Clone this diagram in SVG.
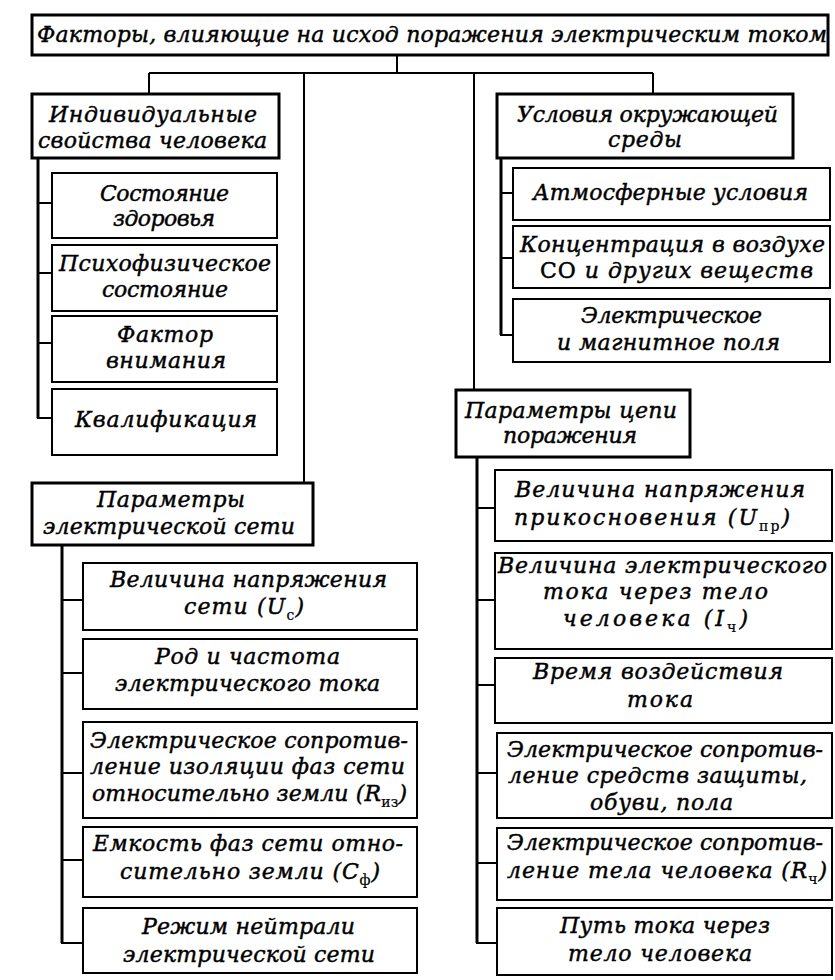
<svg xmlns="http://www.w3.org/2000/svg" width="835" height="980" viewBox="0 0 835 980">
<style>
.bg{fill:#fff}
.main{fill:#fff;stroke:#000;stroke-width:3}
.sub{fill:#fff;stroke:#000;stroke-width:2}
.ln{stroke:#000;stroke-width:2;fill:none}
.tr{stroke:#000;stroke-width:3;fill:none}
text{font-family:"DejaVu Serif","Liberation Serif",serif;font-style:italic;font-size:22px;fill:#000;stroke:#000;stroke-width:0.45}
.s{font-style:normal;font-size:14px;stroke-width:0.2}
</style>
<rect class="bg" x="0" y="0" width="835" height="980"/>
<g id="connectors">
<path class="ln" d="M397 55V73M149 73H653M149 73V94M304 73V483M474 73V390M653 73V94"/>
<path class="tr" d="M38 158V418M501 158V335M62 545V943M477 458V943"/>
<path class="ln" d="M38 203H52M38 273H52M38 343H52M37 418H52"/>
<path class="ln" d="M501 193H513M501 258H513M500 335H513"/>
<path class="ln" d="M62 600H83M62 673H83M62 773H83M62 860H83M61 943H83"/>
<path class="ln" d="M477 508H495M477 600H495M477 685H495M477 773H497M477 863H497M476 943H497"/>
</g>
<g id="n-title"><rect class="main" x="32" y="15" width="796" height="40"/><text x="37" y="42" textLength="790">Факторы, влияющие на исход поражения электрическим током</text></g>
<g id="n-ind"><rect class="main" x="32" y="94" width="247" height="64"/><text x="49" y="122" textLength="208">Индивидуальные</text><text x="38" y="148" textLength="229">свойства человека</text></g>
<g id="n-usl"><rect class="main" x="497" y="94" width="296" height="64"/><text x="517" y="122" textLength="261">Условия окружающей</text><text x="608" y="147" textLength="74">среды</text></g>
<g id="n-ls1"><rect class="sub" x="52" y="173" width="225" height="65"/><text x="100" y="201" textLength="129">Состояние</text><text x="113" y="226" textLength="102">здоровья</text></g>
<g id="n-ls2"><rect class="sub" x="52" y="245" width="225" height="66"/><text x="59" y="271" textLength="212">Психофизическое</text><text x="102" y="297" textLength="126">состояние</text></g>
<g id="n-ls3"><rect class="sub" x="52" y="316" width="225" height="66"/><text x="117" y="342" textLength="96">Фактор</text><text x="106" y="368" textLength="120">внимания</text></g>
<g id="n-ls4"><rect class="sub" x="52" y="389" width="225" height="66"/><text x="75" y="427" textLength="182">Квалификация</text></g>
<g id="n-rs1"><rect class="sub" x="513" y="168" width="317" height="52"/><text x="533" y="200" textLength="275">Атмосферные условия</text></g>
<g id="n-rs2"><rect class="sub" x="513" y="226" width="317" height="62"/><text x="520" y="252" textLength="305">Концентрация в воздухе</text><text x="540" y="278" textLength="273"><tspan font-style="normal">СО</tspan> и других веществ</text></g>
<g id="n-rs3"><rect class="sub" x="513" y="299" width="317" height="63"/><text x="581" y="323" textLength="181">Электрическое</text><text x="557" y="350" textLength="223">и магнитное поля</text></g>
<g id="n-cep"><rect class="main" x="456" y="390" width="234" height="67"/><text x="465" y="418" textLength="212">Параметры цепи</text><text x="503" y="443" textLength="134">поражения</text></g>
<g id="n-set"><rect class="main" x="32" y="483" width="281" height="62"/><text x="97" y="507" textLength="148">Параметры</text><text x="43" y="534" textLength="252">электрической сети</text></g>
<g id="n-lb1"><rect class="sub" x="83" y="563" width="334" height="67"/><text x="110" y="587" textLength="277">Величина напряжения</text><text x="184" y="614" textLength="120">сети (U<tspan class="s" dy="6">с</tspan><tspan dy="-6">)</tspan></text></g>
<g id="n-lb2"><rect class="sub" x="83" y="639" width="334" height="70"/><text x="155" y="664" textLength="185">Род и частота</text><text x="115" y="691" textLength="265">электрического тока</text></g>
<g id="n-lb3"><rect class="sub" x="83" y="722" width="334" height="96"/><text x="90" y="748" textLength="318">Электрическое сопротив-</text><text x="90" y="774" textLength="315">ление изоляции фаз сети</text><text x="92" y="801" textLength="315">относительно земли (R<tspan class="s" dy="6">из</tspan><tspan dy="-6">)</tspan></text></g>
<g id="n-lb4"><rect class="sub" x="83" y="827" width="334" height="70"/><text x="93" y="851" textLength="310">Емкость фаз сети отно-</text><text x="120" y="879" textLength="260">сительно земли (C<tspan class="s" dy="6">ф</tspan><tspan dy="-6">)</tspan></text></g>
<g id="n-lb5"><rect class="sub" x="83" y="908" width="334" height="65"/><text x="142" y="934" textLength="213">Режим нейтрали</text><text x="123" y="962" textLength="252">электрической сети</text></g>
<g id="n-rb1"><rect class="sub" x="495" y="470" width="337" height="71"/><text x="515" y="497" textLength="290">Величина напряжения</text><text x="514" y="525" textLength="276">прикосновения (U<tspan class="s" dy="6">пр</tspan><tspan dy="-6">)</tspan></text></g>
<g id="n-rb2"><rect class="sub" x="495" y="553" width="337" height="96"/><text x="498" y="573" textLength="329">Величина электрического</text><text x="543" y="599" textLength="225">тока через тело</text><text x="563" y="626" textLength="185">человека (I<tspan class="s" dy="6">ч</tspan><tspan dy="-6">)</tspan></text></g>
<g id="n-rb3"><rect class="sub" x="495" y="658" width="337" height="65"/><text x="533" y="679" textLength="250">Время воздействия</text><text x="627" y="707" textLength="66">тока</text></g>
<g id="n-rb4"><rect class="sub" x="497" y="733" width="335" height="85"/><text x="507" y="757" textLength="316">Электрическое сопротив-</text><text x="508" y="783" textLength="299">ление средств защиты,</text><text x="590" y="810" textLength="143">обуви, пола</text></g>
<g id="n-rb5"><rect class="sub" x="497" y="828" width="335" height="72"/><text x="507" y="850" textLength="316">Электрическое сопротив-</text><text x="507" y="878" textLength="320">ление тела человека (R<tspan class="s" dy="6">ч</tspan><tspan dy="-6">)</tspan></text></g>
<g id="n-rb6"><rect class="sub" x="497" y="908" width="335" height="67"/><text x="560" y="933" textLength="210">Путь тока через</text><text x="568" y="961" textLength="184">тело человека</text></g>
</svg>
